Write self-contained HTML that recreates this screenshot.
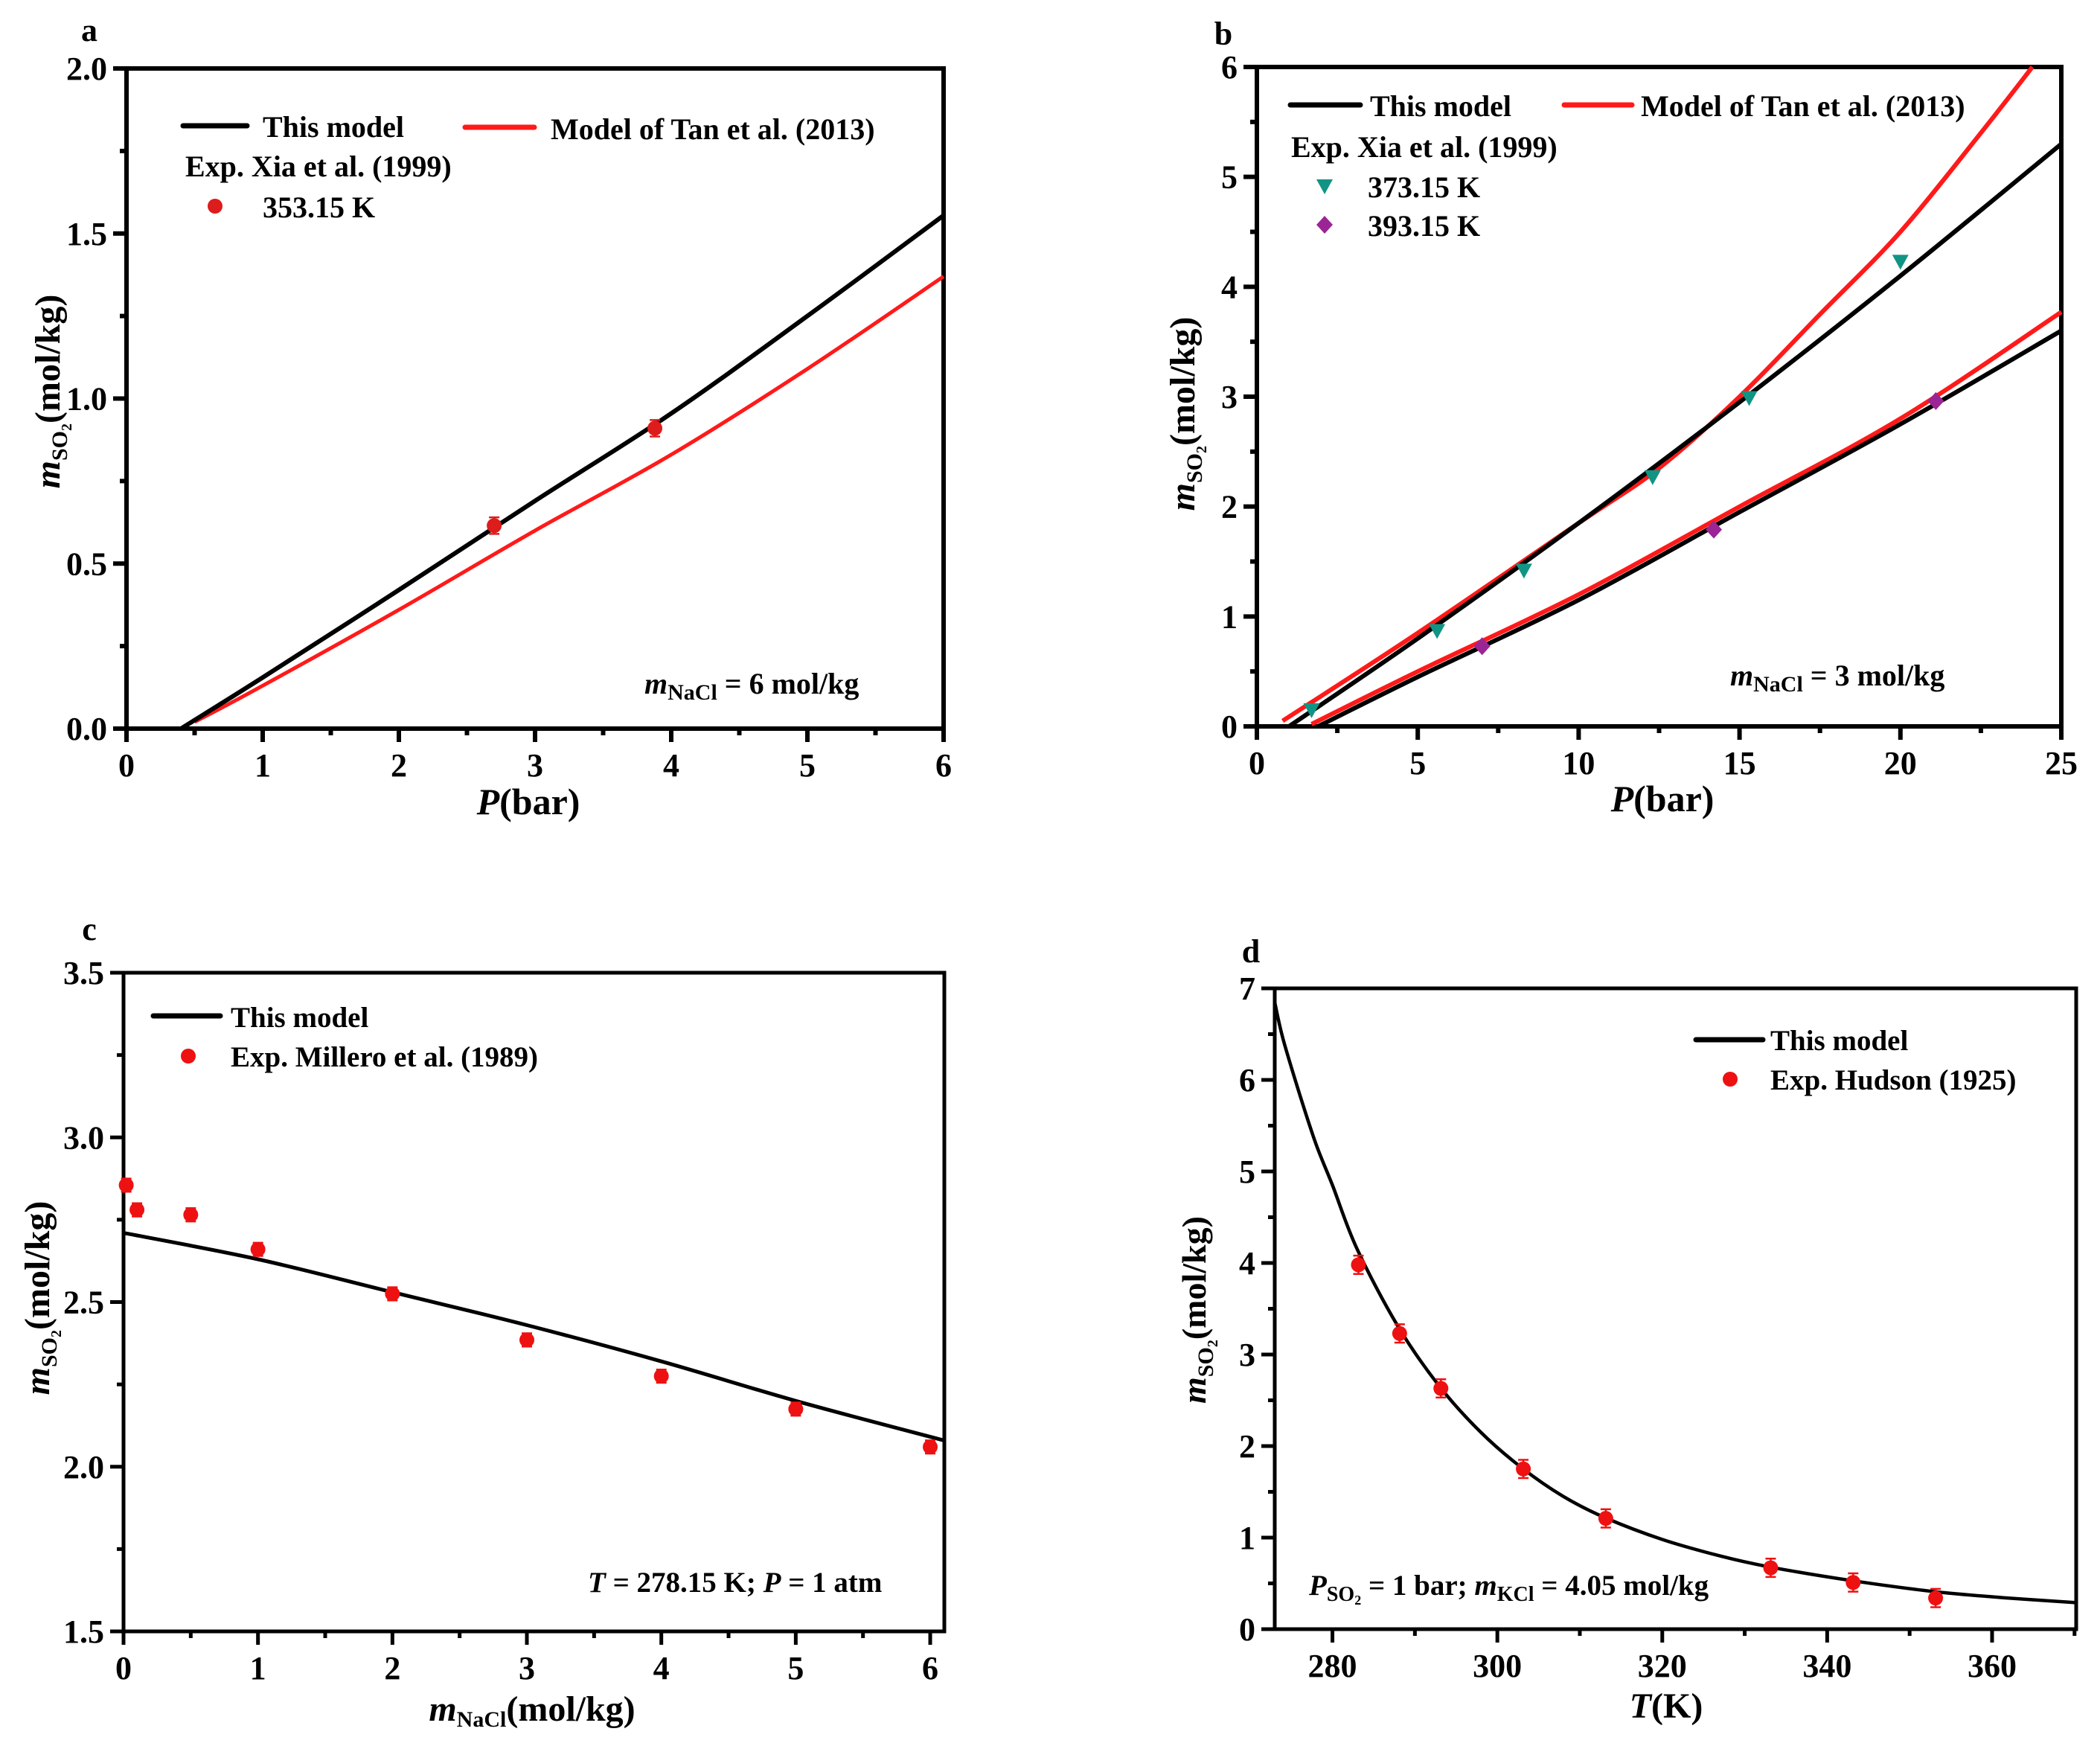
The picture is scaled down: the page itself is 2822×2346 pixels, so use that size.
<!DOCTYPE html>
<html><head><meta charset="utf-8">
<style>
html,body{margin:0;padding:0;background:#fff;}
svg{display:block;font-family:"Liberation Serif","DejaVu Serif",serif;font-weight:bold;}
</style></head>
<body>
<svg id="fig" width="2822" height="2346" viewBox="0 0 2822 2346" xmlns="http://www.w3.org/2000/svg"></svg>
<script>
// ---- Panel a data ----
const aModelX = [0.4, 1, 2, 3, 4, 5, 6];
const aModelY = [0, 0.155, 0.42, 0.69, 0.955, 1.25, 1.555];
const aTanX = [0.5, 1, 2, 3, 4, 5, 6];
const aTanY = [0.02, 0.13, 0.36, 0.6, 0.83, 1.09, 1.37];
const aExpX = [2.7, 3.88];
const aExpY = [0.615, 0.91];
const aExpErr = [0.025, 0.025];
const aXTicks = ["0","1","2","3","4","5","6"];
const aYTicks = ["0.0","0.5","1.0","1.5","2.0"];
// ---- Panel b data ----
const bModel373X = [1, 5, 10, 15, 20, 25];
const bModel373Y = [0, 0.8, 1.85, 2.95, 4.1, 5.3];
const bTan373X = [0.8, 5, 10, 12.5, 15, 17.5, 20, 22.5, 24.1];
const bTan373Y = [0.05, 0.85, 1.85, 2.35, 3.0, 3.75, 4.5, 5.4, 6.0];
const bModel393X = [1.9, 5, 10, 15, 20, 25];
const bModel393Y = [0, 0.45, 1.15, 1.95, 2.75, 3.6];
const bTan393X = [1.7, 5, 10, 15, 20, 25];
const bTan393Y = [0.02, 0.5, 1.2, 2.0, 2.8, 3.77];
const bExp373X = [1.7, 5.6, 8.3, 12.3, 15.3, 20];
const bExp373Y = [0.15, 0.87, 1.42, 2.27, 2.99, 4.23];
const bExp393X = [7, 14.2, 21.1];
const bExp393Y = [0.73, 1.79, 2.96];
const bXTicks = ["0","5","10","15","20","25"];
const bYTicks = ["0","1","2","3","4","5","6"];
// ---- Panel c data ----
const cModelX = [0, 1, 2, 3, 4, 5, 6.1];
const cModelY = [2.71, 2.63, 2.53, 2.43, 2.32, 2.2, 2.08];
const cExpX = [0.02, 0.1, 0.5, 1, 2, 3, 4, 5, 6];
const cExpY = [2.855, 2.78, 2.765, 2.66, 2.525, 2.385, 2.275, 2.175, 2.06];
const cExpErr = [0.02, 0.02, 0.02, 0.02, 0.02, 0.02, 0.02, 0.02, 0.02];
const cXTicks = ["0","1","2","3","4","5","6"];
const cYTicks = ["1.5","2.0","2.5","3.0","3.5"];
// ---- Panel d data ----
const dModelX = [273, 274, 276, 278, 280, 283, 288, 293, 298, 303, 308, 313, 320, 327, 333, 343, 353, 362, 370];
const dModelY = [6.85, 6.45, 5.85, 5.3, 4.85, 4.15, 3.3, 2.65, 2.15, 1.76, 1.45, 1.22, 0.98, 0.8, 0.68, 0.53, 0.41, 0.34, 0.29];
const dExpX = [283.15, 288.15, 293.15, 303.15, 313.15, 333.15, 343.15, 353.15];
const dExpY = [3.98, 3.23, 2.63, 1.75, 1.21, 0.67, 0.51, 0.34];
const dExpErr = [0.1, 0.1, 0.1, 0.1, 0.1, 0.1, 0.1, 0.1];
const dXTicks = ["280","300","320","340","360"];
const dYTicks = ["0","1","2","3","4","5","6","7"];

const NS = "http://www.w3.org/2000/svg";
const svg = document.getElementById('fig');
function mk(tag, attrs, parent){
  const e = document.createElementNS(NS, tag);
  for (const k in attrs) e.setAttribute(k, attrs[k]);
  (parent||svg).appendChild(e);
  return e;
}
function makePanel(name, L, R, T, B, x0, x1, y0, y1){
  const g = mk('g', {});
  
  
  return {g, L, R, T, B,
    sx: v => L + (v - x0) / (x1 - x0) * (R - L),
    sy: v => B - (v - y0) / (y1 - y0) * (B - T)};
}
function frame(p, xt, yt, xMinor, yMinor, aw){
  const f = mk('rect', {x:p.L, y:p.T, width:p.R-p.L, height:p.B-p.T, fill:'none', stroke:'#000', 'stroke-width':aw}, p.g);
  
  
  xt.forEach(t => {
    const x = p.sx(+t);
    mk('line', {x1:x, x2:x, y1:p.B, y2:p.B+18, stroke:'#000', 'stroke-width':aw}, p.g);
    const tx = mk('text', {x:x, y:p.B+64, 'font-size':44, 'text-anchor':'middle'}, p.g);
    tx.textContent = t;
    
    
  });
  xMinor.forEach(v => { const x = p.sx(v); mk('line', {x1:x, x2:x, y1:p.B, y2:p.B+9, stroke:'#000', 'stroke-width':aw}, p.g); });
  yt.forEach(t => {
    const y = p.sy(+t);
    mk('line', {x1:p.L-18, x2:p.L, y1:y, y2:y, stroke:'#000', 'stroke-width':aw}, p.g);
    const tx = mk('text', {x:p.L-26, y:y+15, 'font-size':44, 'text-anchor':'end'}, p.g);
    tx.textContent = t;
    
    
  });
  yMinor.forEach(v => { const y = p.sy(v); mk('line', {x1:p.L-9, x2:p.L, y1:y, y2:y, stroke:'#000', 'stroke-width':aw}, p.g); });
}
function curve(p, xs, ys, color, w, name){
  const P = xs.map((x,i) => [p.sx(x), p.sy(ys[i])]);
  let d = 'M' + P[0][0].toFixed(1) + ',' + P[0][1].toFixed(1);
  for (let i = 0; i < P.length - 1; i++){
    const p0 = P[Math.max(0,i-1)], p1 = P[i], p2 = P[i+1], p3 = P[Math.min(P.length-1,i+2)];
    const c1 = [p1[0] + (p2[0]-p0[0])/6, p1[1] + (p2[1]-p0[1])/6];
    const c2 = [p2[0] - (p3[0]-p1[0])/6, p2[1] - (p3[1]-p1[1])/6];
    d += ` C${c1[0].toFixed(1)},${c1[1].toFixed(1)} ${c2[0].toFixed(1)},${c2[1].toFixed(1)} ${p2[0].toFixed(1)},${p2[1].toFixed(1)}`;
  }
  const e = mk('path', {d:d, fill:'none', stroke:color, 'stroke-width':w, 'stroke-linejoin':'round'}, p.g);
  
  
}
function dots(p, xs, ys, errs, color, name){
  xs.forEach((x,i) => {
    const cx = p.sx(x), cy = p.sy(ys[i]);
    if (errs){
      const y1 = p.sy(ys[i]+errs[i]), y2 = p.sy(ys[i]-errs[i]);
      mk('path', {d:`M${cx},${y1} V${y2} M${cx-7},${y1} H${cx+7} M${cx-7},${y2} H${cx+7}`, stroke:color, 'stroke-width':2.5, fill:'none'}, p.g);
    }
    const c = mk('circle', {cx:cx, cy:cy, r:10, fill:color}, p.g);
    
    
  });
}
function tris(p, xs, ys, color, name){
  xs.forEach((x,i) => {
    const cx = p.sx(x), cy = p.sy(ys[i]);
    const e = mk('path', {d:`M${cx-11},${cy-9} L${cx+11},${cy-9} L${cx},${cy+11} Z`, fill:color}, p.g);
    
    
  });
}
function dias(p, xs, ys, color, name){
  xs.forEach((x,i) => {
    const cx = p.sx(x), cy = p.sy(ys[i]);
    const e = mk('path', {d:`M${cx},${cy-12} L${cx+11},${cy} L${cx},${cy+12} L${cx-11},${cy} Z`, fill:color}, p.g);
    
    
  });
}
function txt(parent, x, y, html, size, name, anchor, rot){
  const e = mk('text', {x:x, y:y, 'font-size':size, 'text-anchor':anchor||'start'}, parent);
  if (rot) e.setAttribute('transform', `rotate(-90 ${x} ${y})`);
  e.innerHTML = html;
  
  
  return e;
}
function legLine(parent, x1, x2, y, color, name){
  const e = mk('line', {x1:x1, x2:x2, y1:y, y2:y, stroke:color, 'stroke-width':7, 'stroke-linecap':'round'}, parent);
  
  
}
const ySO2 = '<tspan font-style="italic">m</tspan><tspan font-size="30" dy="10">SO</tspan><tspan font-size="20" dy="6">2</tspan><tspan dy="-16">(mol/kg)</tspan>';

// ===== Panel a =====
const pa = makePanel('panel-a', 170, 1268, 92, 979, 0, 6, 0, 2);
frame(pa, aXTicks, aYTicks, [0.5,1.5,2.5,3.5,4.5,5.5], [0.25,0.75,1.25,1.75], 6);
curve(pa, aTanX, aTanY, '#ff1a1a', 5, 'tan-model-line');
curve(pa, aModelX, aModelY, '#000', 6, 'this-model-line');
dots(pa, aExpX, aExpY, aExpErr, '#dd1c1c', 'exp-point-353K');
txt(pa.g, 120, 55, 'a', 44, 'panel-label', 'middle');
txt(pa.g, 710, 1094, '<tspan font-style="italic">P</tspan>(bar)', 50, 'x-axis-title', 'middle');
txt(pa.g, 80, 526, ySO2, 48, 'y-axis-title', 'middle', true);
legLine(pa.g, 246, 332, 169, '#000', 'legend-this-model-line');
txt(pa.g, 353, 184, 'This model', 40, 'legend-this-model');
legLine(pa.g, 625, 718, 171, '#ff1a1a', 'legend-tan-line');
txt(pa.g, 740, 187, 'Model of Tan et al. (2013)', 40, 'legend-tan');
txt(pa.g, 249, 237, 'Exp. Xia et al. (1999)', 40, 'legend-exp-title');
mk('circle', {cx:289, cy:277, r:10, fill:'#dd1c1c'}, pa.g);
txt(pa.g, 353, 292, '353.15 K', 40, 'legend-353K');
txt(pa.g, 866, 932, '<tspan font-style="italic">m</tspan><tspan font-size="30" dy="8">NaCl</tspan><tspan dy="-8"> = 6 mol/kg</tspan>', 40, 'annotation-nacl');

// ===== Panel b =====
const pb = makePanel('panel-b', 1689, 2770, 90, 976, 0, 25, 0, 6);
frame(pb, bXTicks, bYTicks, [2.5,7.5,12.5,17.5,22.5], [0.5,1.5,2.5,3.5,4.5,5.5], 6);
curve(pb, bTan373X, bTan373Y, '#ff1a1a', 6, 'tan-373K-line');
curve(pb, bTan393X, bTan393Y, '#ff1a1a', 6, 'tan-393K-line');
curve(pb, bModel373X, bModel373Y, '#000', 6, 'this-model-373K-line');
curve(pb, bModel393X, bModel393Y, '#000', 6, 'this-model-393K-line');
tris(pb, bExp373X, bExp373Y, '#129484', 'exp-point-373K');
dias(pb, bExp393X, bExp393Y, '#9b2594', 'exp-point-393K');
txt(pb.g, 1644, 60, 'b', 44, 'panel-label', 'middle');
txt(pb.g, 2234, 1090, '<tspan font-style="italic">P</tspan>(bar)', 50, 'x-axis-title', 'middle');
txt(pb.g, 1605, 556, ySO2, 48, 'y-axis-title', 'middle', true);
legLine(pb.g, 1734, 1828, 141, '#000', 'legend-this-model-line');
txt(pb.g, 1841, 156, 'This model', 40, 'legend-this-model');
legLine(pb.g, 2102, 2193, 141, '#ff1a1a', 'legend-tan-line');
txt(pb.g, 2205, 156, 'Model of Tan et al. (2013)', 40, 'legend-tan');
txt(pb.g, 1735, 211, 'Exp. Xia et al. (1999)', 40, 'legend-exp-title');
mk('path', {d:'M1769,241 L1791,241 L1780,261 Z', fill:'#129484'}, pb.g);
txt(pb.g, 1838, 265, '373.15 K', 40, 'legend-373K');
mk('path', {d:'M1780,290 L1791,302 L1780,314 L1769,302 Z', fill:'#9b2594'}, pb.g);
txt(pb.g, 1838, 317, '393.15 K', 40, 'legend-393K');
txt(pb.g, 2325, 921, '<tspan font-style="italic">m</tspan><tspan font-size="30" dy="8">NaCl</tspan><tspan dy="-8"> = 3 mol/kg</tspan>', 40, 'annotation-nacl');

// ===== Panel c =====
const pc = makePanel('panel-c', 166, 1269, 1307, 2192, 0, 6.105, 1.5, 3.5);
frame(pc, cXTicks, cYTicks, [0.5,1.5,2.5,3.5,4.5,5.5], [1.75,2.25,2.75,3.25], 5);
curve(pc, cModelX, cModelY, '#000', 5, 'this-model-line');
dots(pc, cExpX, cExpY, cExpErr, '#ee1111', 'exp-point-millero');
txt(pc.g, 120, 1263, 'c', 44, 'panel-label', 'middle');
txt(pc.g, 715, 2312, '<tspan font-style="italic">m</tspan><tspan font-size="30" dy="8">NaCl</tspan><tspan dy="-8">(mol/kg)</tspan>', 48, 'x-axis-title', 'middle');
txt(pc.g, 66, 1744, ySO2, 48, 'y-axis-title', 'middle', true);
legLine(pc.g, 206, 296, 1365, '#000', 'legend-this-model-line');
txt(pc.g, 310, 1380, 'This model', 39, 'legend-this-model');
mk('circle', {cx:253, cy:1419, r:10, fill:'#ee1111'}, pc.g);
txt(pc.g, 310, 1433, 'Exp. Millero et al. (1989)', 39, 'legend-exp');
txt(pc.g, 790, 2139, '<tspan font-style="italic">T</tspan> = 278.15 K; <tspan font-style="italic">P</tspan> = 1 atm', 39, 'annotation-conditions');

// ===== Panel d =====
const pd = makePanel('panel-d', 1713, 2790, 1328, 2189, 273, 370.2, 0, 7);
frame(pd, dXTicks, dYTicks, [290,310,330,350,370], [0.5,1.5,2.5,3.5,4.5,5.5,6.5], 5);
curve(pd, dModelX, dModelY, '#000', 4.5, 'this-model-line');
dots(pd, dExpX, dExpY, dExpErr, '#ee1111', 'exp-point-hudson');
txt(pd.g, 1681, 1293, 'd', 44, 'panel-label', 'middle');
txt(pd.g, 2239, 2308, '<tspan font-style="italic">T</tspan>(K)', 48, 'x-axis-title', 'middle');
txt(pd.g, 1620, 1760, ySO2, 46, 'y-axis-title', 'middle', true);
legLine(pd.g, 2279, 2369, 1397, '#000', 'legend-this-model-line');
txt(pd.g, 2379, 1411, 'This model', 39, 'legend-this-model');
mk('circle', {cx:2325, cy:1450, r:10, fill:'#ee1111'}, pd.g);
txt(pd.g, 2379, 1464, 'Exp. Hudson (1925)', 39, 'legend-exp');
txt(pd.g, 1759, 2143, '<tspan font-style="italic">P</tspan><tspan font-size="28" dy="8">SO</tspan><tspan font-size="18" dy="5">2</tspan><tspan dy="-13"> = 1 bar; </tspan><tspan font-style="italic">m</tspan><tspan font-size="28" dy="8">KCl</tspan><tspan dy="-8"> = 4.05 mol/kg</tspan>', 39, 'annotation-conditions');
</script>
</body></html>
